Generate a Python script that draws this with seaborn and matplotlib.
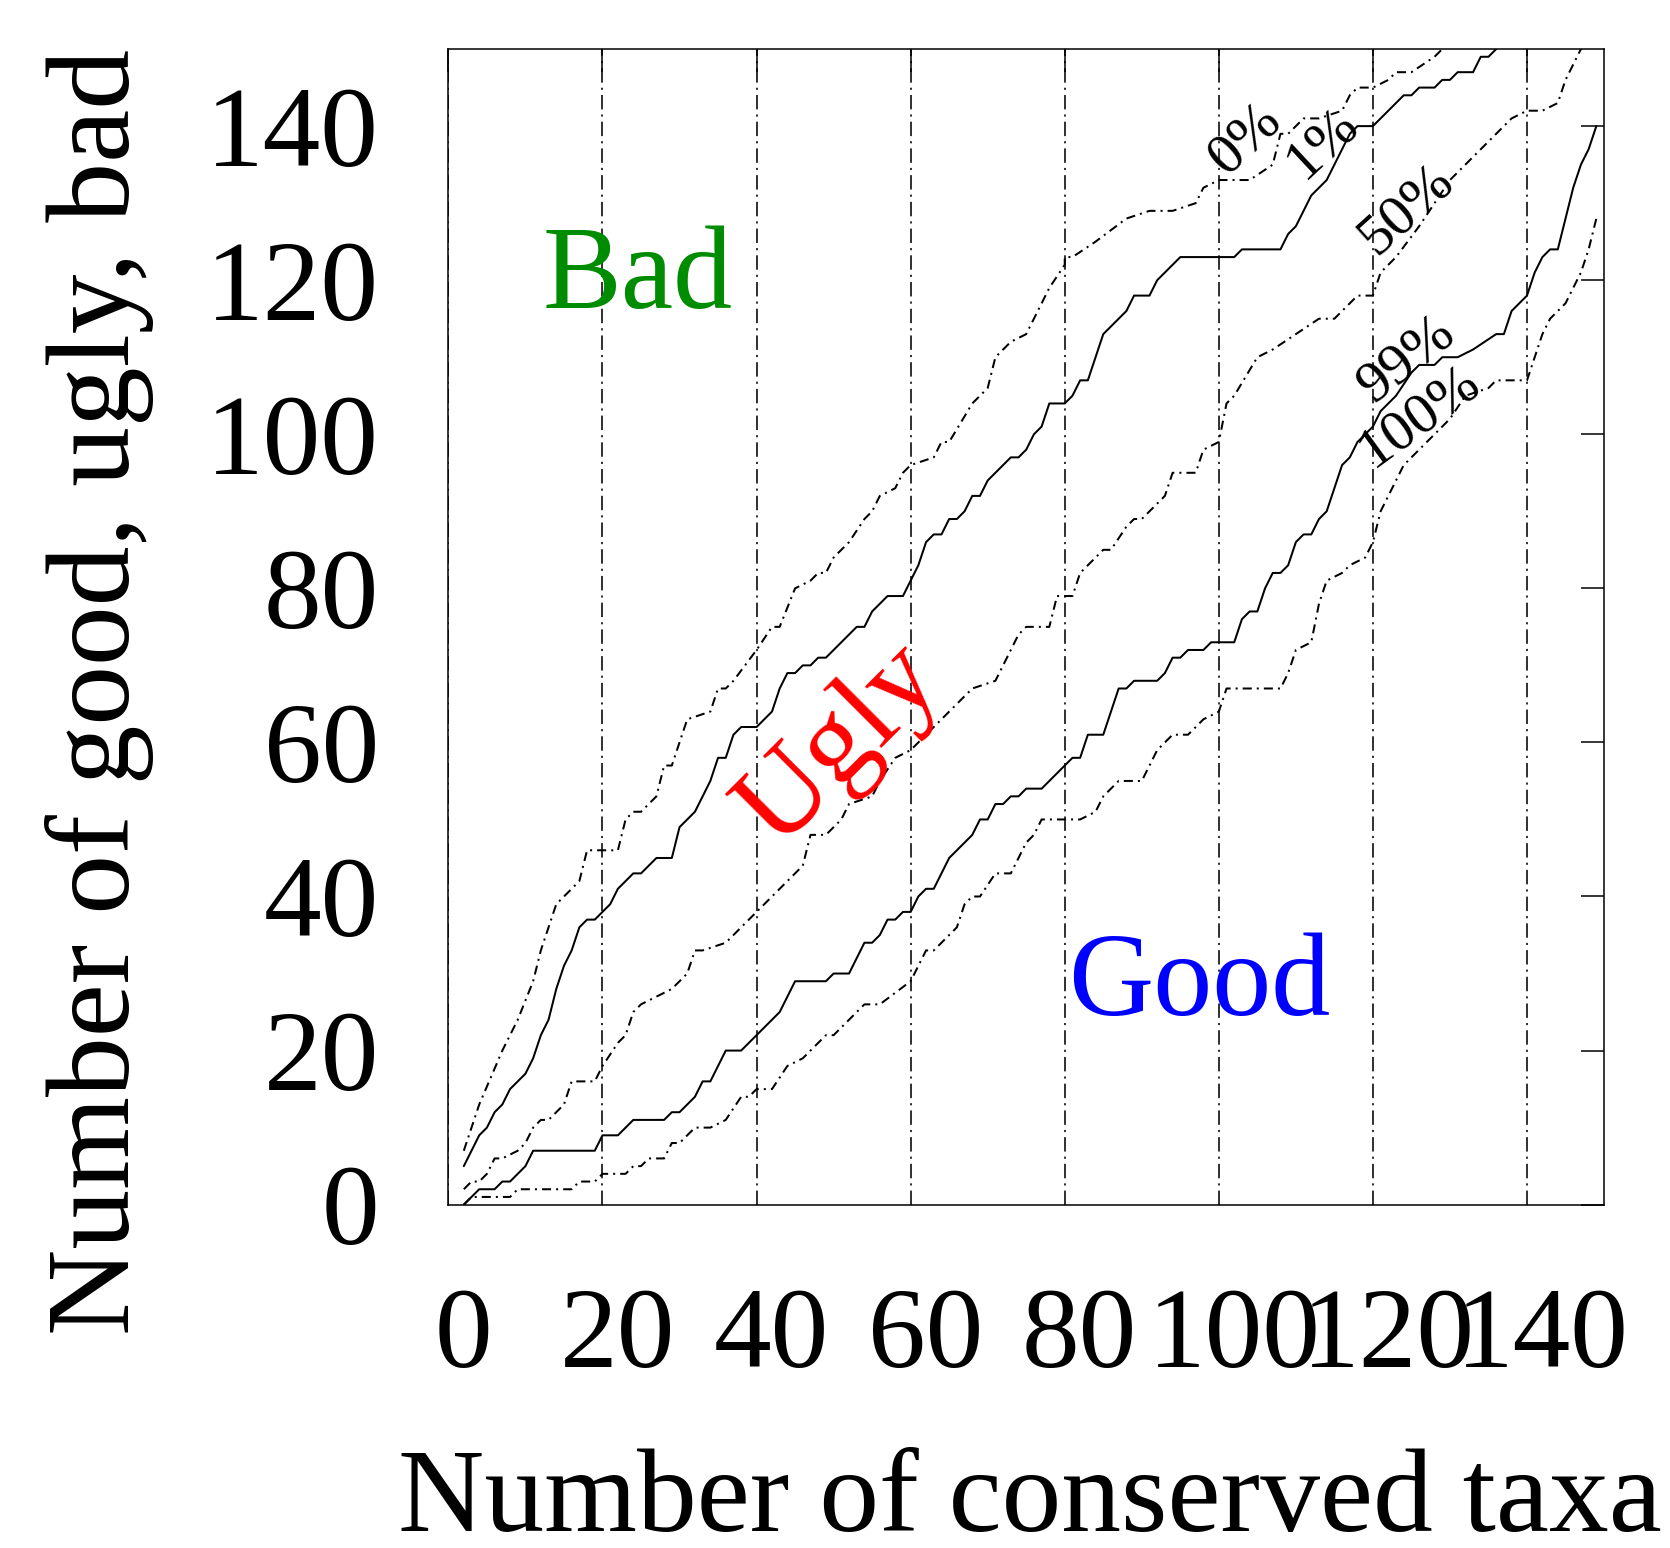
import matplotlib
matplotlib.use("Agg")
import matplotlib.pyplot as plt
import pandas as pd
import seaborn as sns
from matplotlib.transforms import ScaledTranslation

# Percentile curves of the good/ugly/bad count against conserved taxa,
# given as (taxa, count) breakpoints.
curve_0 = [(2, 7), (4, 13), (7, 20), (9, 24), (11, 29), (12, 33), (14, 39), (17, 42),
           (18, 46), (22, 46), (23, 50), (24, 51), (25, 51), (27, 53), (28, 57), (29, 57),
           (31, 63), (34, 64), (35, 67), (36, 67), (37, 68), (40, 72), (42, 75), (43, 75),
           (45, 80), (47, 81), (48, 82), (49, 82), (50, 84), (52, 86), (54, 89), (55, 90),
           (56, 92), (58, 93), (59, 95), (60, 96), (63, 97), (64, 99), (65, 99), (68, 104),
           (70, 106), (71, 110), (73, 112), (75, 113), (78, 119), (80, 122), (80, 123),
           (81, 123), (84, 125), (88, 128), (91, 129), (94, 129), (97, 130), (98, 132),
           (100, 133), (104, 133), (107, 135), (108, 139), (109, 139), (111, 141), (113, 141),
           (116, 142), (117, 144), (118, 145), (120, 145), (122, 146), (123, 147), (125, 147),
           (128, 149), (129, 150), (131, 152)]

curve_1 = [(2, 5), (4, 9), (5, 10), (6, 12), (7, 13), (8, 15), (10, 17), (11, 19), (12, 22),
           (13, 24), (14, 28), (15, 31), (16, 33), (17, 36), (18, 37), (19, 37), (21, 39),
           (22, 41), (24, 43), (25, 43), (27, 45), (29, 45), (30, 49), (32, 51), (34, 55),
           (35, 58), (36, 58), (37, 61), (38, 62), (40, 62), (42, 64), (43, 67), (44, 69),
           (45, 69), (46, 70), (47, 70), (48, 71), (49, 71), (51, 73), (53, 75), (54, 75),
           (55, 77), (57, 79), (59, 79), (61, 83), (62, 86), (63, 87), (64, 87), (65, 89),
           (66, 89), (67, 90), (68, 92), (69, 92), (70, 94), (73, 97), (74, 97), (75, 98),
           (76, 100), (77, 101), (78, 104), (80, 104), (81, 105), (82, 107), (83, 107),
           (85, 113), (88, 116), (89, 118), (91, 118), (92, 120), (95, 123), (102, 123),
           (103, 124), (108, 124), (109, 126), (110, 127), (112, 131), (114, 133), (115, 135),
           (116, 137), (117, 139), (118, 140), (120, 140), (122, 142), (124, 144), (125, 144),
           (126, 145), (128, 145), (129, 146), (130, 146), (131, 147), (133, 147), (134, 149),
           (135, 149), (136, 150), (137, 152)]

curve_50 = [(2, 2), (3, 3), (4, 3), (5, 4), (6, 6), (7, 6), (9, 7), (10, 8), (11, 10),
            (12, 11), (13, 11), (15, 13), (16, 16), (19, 16), (20, 18), (22, 21), (23, 22),
            (24, 25), (25, 26), (27, 27), (29, 28), (30, 29), (31, 30), (32, 33), (33, 33),
            (36, 34), (38, 36), (40, 38), (43, 41), (46, 44), (47, 48), (49, 48), (51, 50),
            (52, 52), (55, 53), (56, 55), (58, 58), (60, 59), (64, 63), (67, 66), (68, 67),
            (71, 68), (72, 70), (74, 74), (75, 75), (78, 75), (79, 79), (81, 79), (82, 82),
            (83, 83), (85, 85), (86, 85), (88, 88), (89, 89), (90, 89), (93, 92), (94, 95),
            (97, 95), (98, 98), (100, 99), (101, 104), (102, 105), (105, 110), (107, 111),
            (110, 113), (113, 115), (115, 115), (117, 117), (118, 118), (120, 118), (121, 121),
            (123, 123), (126, 127), (130, 133), (133, 136), (136, 139), (138, 141), (140, 142),
            (142, 142), (144, 143), (145, 146), (146, 148), (147, 150), (148, 152)]

curve_99 = [(2, 0), (4, 2), (6, 2), (7, 3), (8, 3), (10, 5), (11, 7), (19, 7), (20, 9),
            (22, 9), (24, 11), (28, 11), (29, 12), (30, 12), (32, 14), (33, 16), (34, 16),
            (36, 20), (38, 20), (43, 25), (45, 29), (49, 29), (50, 30), (52, 30), (54, 34),
            (55, 34), (56, 35), (57, 37), (58, 37), (59, 38), (60, 38), (61, 40), (62, 41),
            (63, 41), (65, 45), (68, 48), (69, 50), (70, 50), (71, 52), (72, 52), (73, 53),
            (74, 53), (75, 54), (77, 54), (80, 57), (81, 58), (82, 58), (83, 61), (85, 61),
            (87, 67), (88, 67), (89, 68), (92, 68), (93, 69), (94, 71), (95, 71), (96, 72),
            (98, 72), (99, 73), (102, 73), (103, 76), (104, 77), (105, 77), (106, 80),
            (107, 82), (108, 82), (109, 83), (110, 86), (111, 87), (112, 87), (113, 89),
            (114, 90), (116, 96), (117, 97), (118, 99), (120, 101), (121, 103), (123, 105),
            (125, 108), (126, 109), (128, 109), (129, 110), (131, 110), (133, 111), (136, 113),
            (137, 113), (138, 116), (140, 118), (141, 121), (142, 123), (143, 124), (144, 124),
            (145, 128), (146, 132), (147, 135), (148, 137), (149, 140)]

curve_100 = [(2, 0), (3, 1), (8, 1), (9, 2), (16, 2), (17, 3), (19, 3), (20, 4), (23, 4),
             (24, 5), (25, 5), (26, 6), (28, 6), (29, 8), (30, 8), (32, 10), (34, 10),
             (36, 11), (38, 14), (39, 14), (40, 15), (42, 15), (44, 18), (46, 19), (49, 22),
             (50, 22), (52, 24), (54, 26), (56, 26), (60, 29), (62, 33), (63, 33), (66, 36),
             (67, 39), (68, 40), (69, 40), (71, 43), (73, 43), (75, 47), (76, 48), (77, 50),
             (82, 50), (84, 51), (85, 53), (87, 55), (90, 55), (92, 59), (94, 61), (96, 61),
             (98, 63), (100, 64), (101, 67), (108, 67), (109, 69), (110, 72), (112, 73),
             (113, 78), (114, 81), (116, 82), (117, 83), (119, 84), (120, 86), (121, 90),
             (123, 94), (124, 96), (126, 98), (128, 100), (130, 102), (132, 105), (135, 106),
             (136, 107), (140, 107), (141, 110), (142, 113), (143, 115), (145, 117), (147, 121),
             (148, 124), (149, 128)]

curve_labels = ["0%", "1%", "50%", "99%", "100%"]
region_labels = ["Bad", "Ugly", "Good"]
axis_ticks = [0, 20, 40, 60, 80, 100, 120, 140]

sns.set_theme(style="white")
plt.rcParams["font.family"] = ["Liberation Serif", "DejaVu Serif"]
plt.rcParams["text.color"] = "black"
plt.rcParams["axes.edgecolor"] = "black"
plt.rcParams["axes.linewidth"] = 1.1

fig = plt.figure(figsize=(16.7, 15.48), dpi=100)
ax = fig.add_axes([0.2685, 0.2218, 0.692, 0.7465])

dashdot = (0, (4.5, 2.5, 1, 2.5))
curves = [curve_0, curve_1, curve_50, curve_99, curve_100]
styles = [dashdot, "-", dashdot, "-", dashdot]
for pts, name, ls in zip(curves, curve_labels, styles):
    df = pd.DataFrame(pts, columns=["taxa", "count"])
    sns.lineplot(data=df, x="taxa", y="count", sort=False, estimator=None,
                 color="black", linewidth=1.45, linestyle=ls, ax=ax)

ax.set_xlim(0, 150)
ax.set_ylim(0, 150)
ax.set_xticks(axis_ticks)
ax.set_yticks(axis_ticks)
ax.set_xlabel("")
ax.set_ylabel("")

ax.grid(True, axis="x", color="#202020", linewidth=1.3, linestyle=(0, (8, 2.8, 1.2, 2.8)))
ax.grid(False, axis="y")
ax.tick_params(axis="both", direction="in", length=16.5, width=1.1, color="black",
               labelsize=83, labelcolor="black", top=True, right=True)
ax.tick_params(axis="x", pad=60)
ax.tick_params(axis="y", pad=50)
for lab in ax.get_xticklabels():
    lab.set_transform(lab.get_transform() + ScaledTranslation(0.15, 0, fig.dpi_scale_trans))
for sp in ax.spines.values():
    sp.set_color("black")
    sp.set_linewidth(1.1)

# percentile annotations along the curves
ax.text(103.4, 138.3, curve_labels[0], rotation=43, fontsize=42, ha="center", va="center", rotation_mode="anchor")
ax.text(113.5, 137.8, curve_labels[1], rotation=43, fontsize=42, ha="center", va="center", rotation_mode="anchor")
ax.text(124.4, 129.2, curve_labels[2], rotation=42, fontsize=42, ha="center", va="center", rotation_mode="anchor")
ax.text(124.4, 109.7, curve_labels[3], rotation=38, fontsize=42, ha="center", va="center", rotation_mode="anchor")
ax.text(126.1, 102.3, curve_labels[4], rotation=36, fontsize=42, ha="center", va="center", rotation_mode="anchor")

# region names
ax.text(24.6, 116.4, region_labels[0], color="#008c00", fontsize=85, ha="center", va="baseline")
ax.text(50.9, 59.6, region_labels[1], color="#ff0000", fontsize=85, rotation=45,
        ha="center", va="center", rotation_mode="anchor")
ax.text(97.4, 24.6, region_labels[2], color="#0000ff", fontsize=85, ha="center", va="baseline")

fig.text(0.0593, 0.553, "Number of good, ugly, bad", rotation=90, fontsize=86,
         color="black", ha="center", va="center")
fig.text(0.617, 0.011, "Number of conserved taxa", fontsize=86, color="black",
         ha="center", va="baseline")

fig.savefig("out.png", dpi=100, facecolor="white")
